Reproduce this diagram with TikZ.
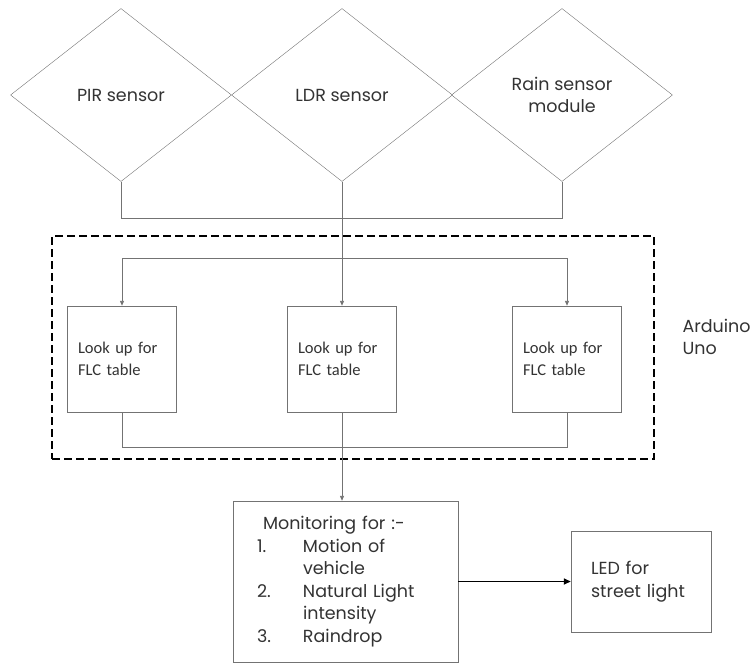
\documentclass[tikz,border=0pt]{standalone}
\usepackage{fontspec}
\setmainfont{Poppins}
\newfontfamily\lookfont{Carlito}
\usetikzlibrary{shapes.geometric,arrows.meta}
\newcommand\monitem[2]{\makebox[46pt][l]{#1}#2}
\begin{document}
\begin{tikzpicture}[x=1pt,y=-1pt,
  every node/.style={font=\fontsize{17.5}{22.5}\selectfont,text=black!80},
  sensor/.style={draw=black!55,diamond,minimum width=221pt,minimum height=173pt,inner sep=0pt,align=center},
  lookbox/.style={draw=black!55,minimum width=109pt,minimum height=106pt,text width=88pt,align=left,font=\lookfont\fontsize{16.5}{22}\selectfont},
  wire/.style={draw=black!55,line width=0.9pt},
  >={Triangle[length=5pt,width=4pt]}]
\useasboundingbox (0,0) rectangle (756,664);
\node[draw,dash pattern=on 8pt off 4pt,line width=2.5pt,minimum width=602pt,minimum height=223pt] (uno) at (353,347.5) {};
\node[anchor=west,align=left] (unolabel) at (679,337) {Arduino\\Uno};
\node[sensor] (pir) at (121,95) {PIR sensor};
\node[sensor] (ldr) at (342,95) {LDR sensor};
\node[sensor] (rain) at (562,95) {Rain sensor\\module};
\node[lookbox] (look1) at (122,359) {\makebox[87pt][s]{Look up for}\\FLC table};
\node[lookbox] (look2) at (342,359) {\makebox[87pt][s]{Look up for}\\FLC table};
\node[lookbox] (look3) at (567,359) {\makebox[87pt][s]{Look up for}\\FLC table};
\node[draw=black!55,minimum width=225pt,minimum height=161pt,text width=177pt,align=left] (mon) at (345.5,581.5) {\hspace*{6pt}Monitoring for :-\\\monitem{1.}{Motion of}\\\monitem{}{vehicle}\\\monitem{2.}{Natural Light}\\\monitem{}{intensity}\\\monitem{3.}{Raindrop}};
\node[draw=black!55,minimum width=140pt,minimum height=101pt,text width=100pt,align=left] (led) at (641,581.5) {LED for\\street light};
% sensors to the board
\draw[wire] (pir.south) -- ++(0,37) -| (rain.south);
\draw[wire,->] (ldr.south) -- (look2.north);
\coordinate (split) at (342,258);
\draw[wire,->] (split) -| (look1.north);
\draw[wire,->] (split) -| (look3.north);
% board to output
\draw[wire] (look1.south) -- ++(0,35) -| (look3.south);
\draw[wire,->] (look2.south) -- (look2.south |- mon.north);
\draw[->,line width=1.6pt,>={Triangle[length=7pt,width=6pt]}] (mon.east) -- (led.west);
\end{tikzpicture}
\end{document}
